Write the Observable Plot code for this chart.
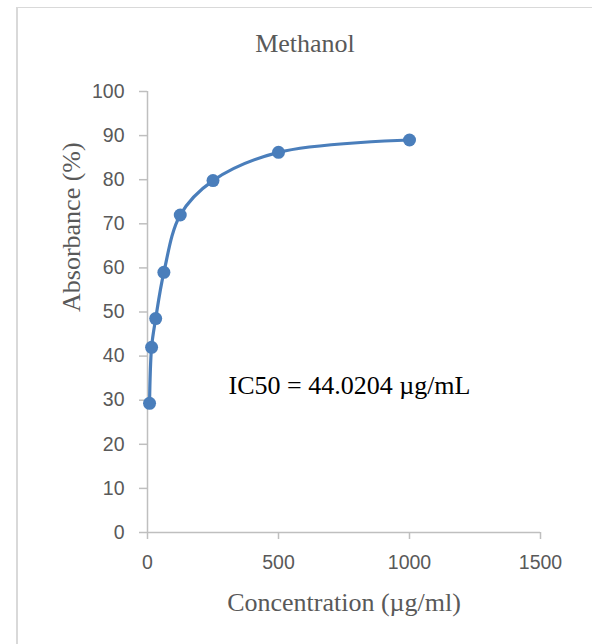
<!DOCTYPE html>
<html>
<head>
<meta charset="utf-8">
<script src="https://cdn.jsdelivr.net/npm/d3@7"></script>
<script src="https://cdn.jsdelivr.net/npm/@observablehq/plot@0.6"></script>
<style>
  html, body { margin: 0; padding: 0; background: #fff; }
  #wrap { position: relative; width: 592px; height: 644px; overflow: hidden; background: #fff; }
  #frame { position: absolute; left: 16px; top: 7px; width: 600px; height: 660px;
           border-left: 2px solid #d9d9d9; border-top: 1.5px solid #d9d9d9; pointer-events: none; }
  #title { position: absolute; left: 0; top: 0; width: 592px; height: 60px; box-sizing: border-box;
           padding-top: 31px; padding-left: 18px; text-align: center;
           font-family: "Liberation Serif", serif; font-size: 26px; line-height: 26px; color: #595959; }
  #chart { position: absolute; left: 0; top: 60px; }
</style>
</head>
<body>
<div id="wrap">
  <div id="frame"></div>
  <div id="title">Methanol</div>
  <div id="chart"></div>
</div>
<script>
const concentration = [7.8125, 15.625, 31.25, 62.5, 125, 250, 500, 1000];
const absorbance = [29.3, 42.0, 48.5, 59.0, 72.0, 79.8, 86.2, 89.0];
const xTicks = [0, 500, 1000, 1500];
const yTicks = [0, 10, 20, 30, 40, 50, 60, 70, 80, 90, 100];
const titleText = "Methanol";
const xLabel = "Concentration (\u00b5g/ml)";
const yLabel = "Absorbance (%)";
const annotation = "IC50 = 44.0204 \u00b5g/mL";

const data = concentration.map((c, i) => ({c, a: absorbance[i]}));

const blue = "#4a7ebb";
const axisGray = "#bfbfbf";
const textGray = "#595959";
const serif = "Liberation Serif, serif";

const plot = Plot.plot({
  width: 592,
  height: 584,
  marginLeft: 147,
  marginRight: 52,
  marginTop: 31,
  marginBottom: 112,
  style: {fontFamily: "Liberation Sans, Arial, sans-serif", fontSize: "19.5px", background: "transparent", overflow: "visible"},
  x: {domain: [0, 1500]},
  y: {domain: [0, 100]},
  marks: [
    Plot.ruleX([0], {y1: 0, y2: 100, stroke: axisGray, strokeWidth: 1.5}),
    Plot.ruleY([0], {x1: 0, x2: 1500, stroke: axisGray, strokeWidth: 1.5}),
    Plot.axisY(yTicks, {tickSize: 8, tickPadding: 15, tickFormat: d => String(d), stroke: axisGray, strokeWidth: 1.5, fill: textGray, label: null}),
    Plot.axisX(xTicks, {tickSize: 7, tickPadding: 16, tickFormat: d => String(d), stroke: axisGray, strokeWidth: 1.5, fill: textGray, label: null}),
    Plot.line(data, {x: "c", y: "a", curve: "catmull-rom", stroke: blue, strokeWidth: 3.2}),
    Plot.dot(data, {x: "c", y: "a", r: 6.5, fill: blue, stroke: "none"}),
    Plot.text([xLabel], {text: d => d, frameAnchor: "bottom", dy: 78, lineAnchor: "bottom",
      fontFamily: serif, fontSize: 26, fill: textGray}),
    Plot.text([yLabel], {text: d => d, frameAnchor: "left", dx: -68, rotate: -90, lineAnchor: "bottom",
      fontFamily: serif, fontSize: 26, fill: textGray}),
    Plot.text([annotation], {text: d => d, frameAnchor: "top-left", dx: 81, dy: 302, textAnchor: "start",
      lineAnchor: "bottom", fontFamily: serif, fontSize: 26, fill: "#000"})
  ]
});
document.getElementById("chart").appendChild(plot);
</script>
</body>
</html>
